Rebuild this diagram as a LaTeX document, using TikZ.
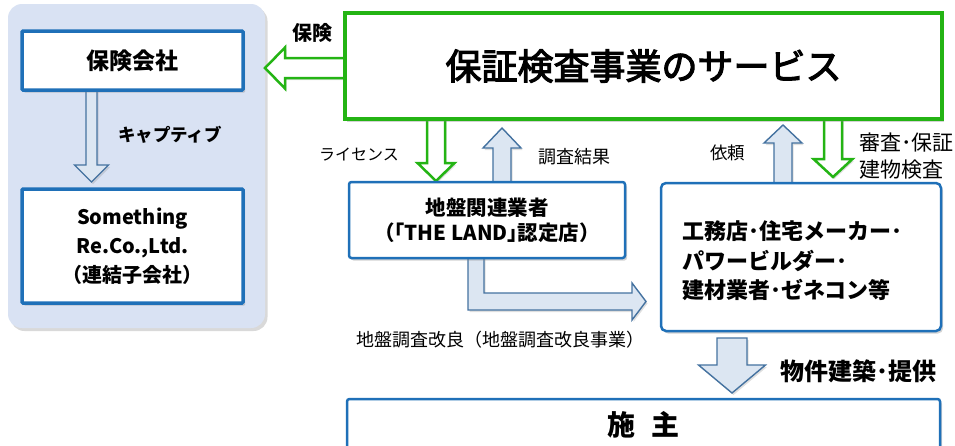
\documentclass[tikz,border=0pt]{standalone}
\usepackage{fontspec}
\setmainfont{Noto Sans CJK JP}
\newfontfamily\titlefont{Noto Sans CJK JP}[RawFeature={embolden=3}]
\usetikzlibrary{shadows,calc}
\definecolor{grn}{RGB}{36,180,20}
\definecolor{bbd}{RGB}{31,112,184}
\definecolor{afill}{RGB}{220,230,242}
\definecolor{abd}{RGB}{68,114,160}
\definecolor{panelc}{RGB}{217,226,243}
\newcommand\myvarrow[7]{\draw[#1] ({#2-#6},#3) -- ({#2-#6},#4) -- ({#2-#7},#4) -- (#2,#5) -- ({#2+#7},#4) -- ({#2+#6},#4) -- ({#2+#6},#3) -- cycle;}
\newcommand\myharrow[7]{\draw[#1] (#3,{#2-#6}) -- (#4,{#2-#6}) -- (#4,{#2-#7}) -- (#5,#2) -- (#4,{#2+#7}) -- (#4,{#2+#6}) -- (#3,{#2+#6}) -- cycle;}
\begin{document}
\begin{tikzpicture}[x=1pt,y=-1pt,
  shd/.style={drop shadow={opacity=0.35,shadow xshift=2pt,shadow yshift=-2.5pt}},
  box/.style={draw=bbd, line width=2.5pt, fill=white, rounded corners=2.5pt, shd, inner sep=0pt, align=center},
  gbox/.style={draw=grn, line width=3.5pt, fill=white, shd, inner sep=0pt, align=center},
  barrow/.style={draw=abd, line width=1.4pt, fill=afill, line join=miter, drop shadow={opacity=0.25,shadow xshift=1.5pt,shadow yshift=-2pt}},
  garrow/.style={draw=grn, line width=2.5pt, fill=white, line join=miter, drop shadow={opacity=0.25,shadow xshift=1.5pt,shadow yshift=-2pt}},
  lbl/.style={inner sep=0pt, align=left}
]
\useasboundingbox (0,0) rectangle (955,445);
% left panel
\node[fill=panelc, rounded corners=14pt, minimum width=257pt, minimum height=324pt, inner sep=0pt,
  drop shadow={opacity=0.3,shadow xshift=2.5pt,shadow yshift=-3pt}] (panel) at (136.5,166) {};
% block arrows
\myharrow{garrow}{68}{352}{285}{265}{10}{20.5}
\myvarrow{barrow}{91.5}{85}{165}{182}{5.5}{17}
\myvarrow{garrow}{436}{112}{163}{181}{9}{18.5}
\myvarrow{barrow}{502}{190}{148}{128}{9}{19}
\myvarrow{barrow}{783}{190}{143}{125}{9}{19}
\myvarrow{garrow}{833}{112}{159}{177}{9}{19.5}
\myvarrow{barrow}{732}{338}{365}{393}{15}{33.5}
\draw[barrow] (468,250) -- (468,310) -- (632,310) -- (632,320) -- (646,301.5) -- (632,283) -- (632,293) -- (484,293) -- (484,250) -- cycle;
% boxes
\node[box, line width=3.5pt, rounded corners=1pt, minimum width=221pt, minimum height=59pt,
  font=\fontsize{23}{28}\selectfont\bfseries] (ins) at (132.5,60.5) {保険会社};
\node[box, line width=3.5pt, rounded corners=1pt, minimum width=221pt, minimum height=114pt,
  font=\fontsize{20}{29}\selectfont\bfseries] (sub) at (132.5,246) {Something\\Re.Co.,Ltd.\\（連結子会社）};
\node[gbox, minimum width=597pt, minimum height=106pt,
  font=\titlefont\fontsize{36}{40}\selectfont] (svc) at (643.5,66) {保証検査事業のサービス};
\node[box, minimum width=276pt, minimum height=76pt,
  font=\fontsize{20.5}{25}\selectfont\bfseries] (geo) at (487,220) {地盤関連業者\\（｢THE LAND｣認定店）};
\node[box, rounded corners=5pt, minimum width=280pt, minimum height=148pt] (bld) at (801,257) {};
\node[lbl, anchor=west, font=\fontsize{22}{29.5}\selectfont\bfseries] (bldtxt) at (682,261)
  {工務店･住宅メーカー･\\パワービルダー･\\建材業者･ゼネコン等};
\node[box, minimum width=593pt, minimum height=52pt,
  font=\fontsize{28}{32}\selectfont\bfseries] (own) at (643.5,425) {施\hspace{0.6em}主};
% labels
\node[lbl, font=\fontsize{20}{24}\selectfont\bfseries] (lbins) at (312,33) {保険};
\node[lbl, font=\fontsize{17.5}{20}\selectfont\bfseries] (lbcap) at (170,135) {キャプティブ};
\node[lbl, font=\fontsize{16}{20}\selectfont] (lblic) at (359,155) {ライセンス};
\node[lbl, font=\fontsize{18}{20}\selectfont] (lbres) at (574,157) {調査結果};
\node[lbl, font=\fontsize{17.5}{20}\selectfont] (lbreq) at (727.5,153) {依頼};
\node[lbl, anchor=west, font=\fontsize{21}{27}\selectfont] (lbchk) at (859,156.5) {審査･保証\\建物検査};
\node[lbl, font=\fontsize{18}{22}\selectfont] (lbimp) at (500,340) {地盤調査改良（地盤調査改良事業）};
\node[lbl, anchor=west, font=\fontsize{24}{28}\selectfont\bfseries] (lbcon) at (780,371) {物件建築･提供};
\end{tikzpicture}
\end{document}
